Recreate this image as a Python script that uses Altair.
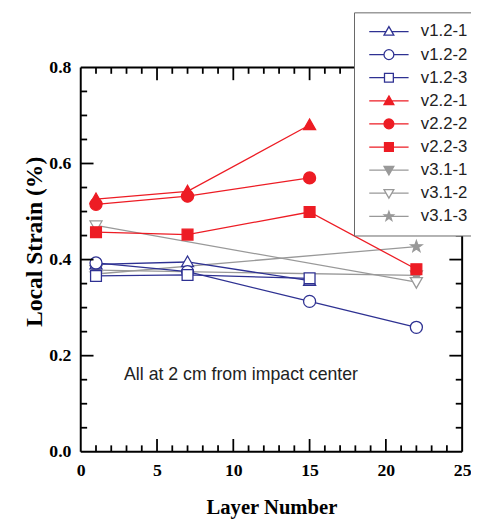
import altair as alt
import pandas as pd

# ---------------- data ----------------
series = ["v1.2-1", "v1.2-2", "v1.2-3", "v2.2-1", "v2.2-2", "v2.2-3",
          "v3.1-1", "v3.1-2", "v3.1-3"]

v121_x = [1, 7, 15];      v121_y = [0.390, 0.395, 0.356]
v122_x = [1, 7, 15, 22];  v122_y = [0.393, 0.375, 0.313, 0.259]
v123_x = [1, 7, 15];      v123_y = [0.366, 0.368, 0.361]
v221_x = [1, 7, 15];      v221_y = [0.526, 0.542, 0.680]
v222_x = [1, 7, 15];      v222_y = [0.515, 0.532, 0.570]
v223_x = [1, 7, 15, 22];  v223_y = [0.457, 0.452, 0.499, 0.380]
v311_x = [1, 22];         v311_y = [0.378, 0.367]
v312_x = [1, 22];         v312_y = [0.471, 0.353]
v313_x = [1, 22];         v313_y = [0.370, 0.427]

series_data = {
    "v1.2-1": (v121_x, v121_y), "v1.2-2": (v122_x, v122_y), "v1.2-3": (v123_x, v123_y),
    "v2.2-1": (v221_x, v221_y), "v2.2-2": (v222_x, v222_y), "v2.2-3": (v223_x, v223_y),
    "v3.1-1": (v311_x, v311_y), "v3.1-2": (v312_x, v312_y), "v3.1-3": (v313_x, v313_y),
}
draw_order = ["v3.1-1", "v3.1-2", "v3.1-3", "v2.2-1", "v2.2-2", "v2.2-3",
              "v1.2-1", "v1.2-2", "v1.2-3"]

x_labels = [0, 5, 10, 15, 20, 25]
x_major_inner = [5, 10, 15, 20]
x_minor = [1, 2, 3, 4, 6, 7, 8, 9, 11, 12, 13, 14, 16, 17, 18, 19, 21, 22, 23, 24]
y_labels = [0.0, 0.2, 0.4, 0.6, 0.8]
y_major_inner = [0.2, 0.4, 0.6]
y_minor = [0.05, 0.1, 0.15, 0.25, 0.3, 0.35, 0.45, 0.5, 0.55, 0.65, 0.7, 0.75]

note_text = ["All at 2 cm from impact center"]
note_x = [2.84]
note_y = [0.16]

# ---------------- styles ----------------
NAVY, RED, GRAY = "#2E3192", "#ED1C24", "#999999"
stroke_colors = [NAVY] * 3 + [RED] * 3 + [GRAY] * 3
fill_colors = ["white", "white", "white", RED, RED, RED, GRAY, "white", GRAY]

TRI_UP = "M0,-1L1,0.75L-1,0.75Z"
CIRC = "M1,0A1,1,0,1,1,-1,0A1,1,0,1,1,1,0Z"
SQR = "M-0.9,-0.9H0.9V0.9H-0.9Z"
TRI_DN = "M0,1L1,-0.75L-1,-0.75Z"
STAR = ("M0,-1L0.235,-0.324L0.951,-0.309L0.380,0.124L0.588,0.809L0,0.4"
        "L-0.588,0.809L-0.380,0.124L-0.951,-0.309L-0.235,-0.324Z")
marker_paths = [TRI_UP, CIRC, SQR, TRI_UP, CIRC, SQR, TRI_DN, TRI_DN, STAR]

def stub(gap):
    return "M-4,0H-%s M%s,0H4 " % (gap, gap)

legend_paths = [stub(0.57) + TRI_UP, stub(1) + CIRC, stub(0.9) + SQR,
                "M-4,0H4 " + TRI_UP, "M-4,0H4 " + CIRC, "M-4,0H4 " + SQR,
                "M-4,0H4 " + TRI_DN, stub(0.57) + TRI_DN, "M-4,0H4 " + STAR]

W, H = 388, 391
MAJ, MIN = 13, 6.5

rows = []
for name in draw_order:
    xs, ys = series_data[name]
    for xv, yv in zip(xs, ys):
        rows.append({"series": name, "layer": xv, "strain": yv})
df = pd.DataFrame(rows)

xscale = alt.Scale(domain=[0, 25], nice=False, zero=False)
yscale = alt.Scale(domain=[0, 0.8], nice=False, zero=False)

SERIF = "Liberation Serif"
SANS = "Liberation Sans"

xaxis = alt.Axis(title="Layer Number", values=x_labels, format="d", ticks=False, tickSize=0,
                 domain=False, grid=False, labelFont=SERIF, labelFontWeight="bold",
                 labelFontSize=18, labelColor="black", labelPadding=10, labelFlush=False,
                 titleFont=SERIF, titleFontWeight="bold", titleFontSize=21,
                 titleColor="black", titleBaseline="alphabetic", titleAlign="center",
                 titleX=W / 2, titleY=63)
yaxis = alt.Axis(title="Local Strain (%)", values=y_labels, format=".1f", ticks=False,
                 tickSize=0, domain=False, grid=False, labelFont=SERIF,
                 labelFontWeight="bold", labelFontSize=18, labelColor="black",
                 labelPadding=10, labelFlush=False, titleFont=SERIF,
                 titleFontWeight="bold", titleFontSize=24, titleColor="black",
                 titleBaseline="alphabetic", titleAlign="center", titleAngle=270,
                 titleX=-40, titleY=177)

X = lambda: alt.X("layer:Q", scale=xscale, axis=xaxis)
Y = lambda: alt.Y("strain:Q", scale=yscale, axis=yaxis)

lines = alt.Chart(df).mark_line(strokeWidth=1.3).encode(
    x=X(), y=Y(),
    color=alt.Color("series:N", scale=alt.Scale(domain=series, range=stroke_colors), legend=None),
    order=alt.Order("layer:Q"),
)

points = alt.Chart(df).mark_point(filled=True, size=150, strokeWidth=1.3, opacity=1).encode(
    x=X(), y=Y(),
    shape=alt.Shape("series:N", scale=alt.Scale(domain=series, range=marker_paths), legend=None),
    fill=alt.Fill("series:N", scale=alt.Scale(domain=series, range=fill_colors), legend=None),
    stroke=alt.Stroke("series:N", scale=alt.Scale(domain=series, range=stroke_colors), legend=None),
)

leg = alt.Legend(title=None, orient="none", legendX=278, legendY=-56, fillColor="white",
                 strokeColor="#666666", padding=11, rowPadding=5.5, symbolSize=100,
                 symbolStrokeWidth=1.3, symbolOffset=16, labelOffset=24,
                 labelFont=SANS, labelFontSize=17, labelColor="#222222")

legend_layer = alt.Chart(df).transform_filter("false").mark_point(
    filled=True, size=100, strokeWidth=1.3, opacity=1).encode(
    shape=alt.Shape("series:N", scale=alt.Scale(domain=series, range=legend_paths), legend=leg),
    fill=alt.Fill("series:N", scale=alt.Scale(domain=series, range=fill_colors), legend=leg),
    stroke=alt.Stroke("series:N", scale=alt.Scale(domain=series, range=stroke_colors), legend=leg),
)

note = alt.Chart(pd.DataFrame({"layer": note_x, "strain": note_y, "text": note_text})).mark_text(
    align="left", baseline="middle", font=SANS, fontSize=18, color="#222222").encode(
    x=X(), y=Y(), text="text:N")

def xticks(vals, length):
    d = pd.DataFrame({"layer": vals})
    bottom = alt.Chart(d).mark_rule(color="black", strokeWidth=1.8).encode(
        x=X(), y=alt.value(H), y2=alt.value(H - length))
    top = alt.Chart(d).mark_rule(color="black", strokeWidth=1.8).encode(
        x=X(), y=alt.value(0), y2=alt.value(length))
    return [bottom, top]

def yticks(vals, length):
    d = pd.DataFrame({"strain": vals})
    left = alt.Chart(d).mark_rule(color="black", strokeWidth=1.8).encode(
        y=Y(), x=alt.value(0), x2=alt.value(length))
    right = alt.Chart(d).mark_rule(color="black", strokeWidth=1.8).encode(
        y=Y(), x=alt.value(W), x2=alt.value(W - length))
    return [left, right]

one = pd.DataFrame({"a": [0]})
frame = [
    alt.Chart(one).mark_rule(color="black", strokeWidth=2).encode(
        x=alt.value(0), x2=alt.value(W), y=alt.value(0)),
    alt.Chart(one).mark_rule(color="black", strokeWidth=2).encode(
        x=alt.value(0), x2=alt.value(W), y=alt.value(H)),
    alt.Chart(one).mark_rule(color="black", strokeWidth=2).encode(
        y=alt.value(0), y2=alt.value(H), x=alt.value(0)),
    alt.Chart(one).mark_rule(color="black", strokeWidth=2).encode(
        y=alt.value(0), y2=alt.value(H), x=alt.value(W)),
]

tick_layers = (xticks(x_major_inner, MAJ) + xticks(x_minor, MIN)
               + yticks(y_major_inner, MAJ) + yticks(y_minor, MIN))

chart = alt.layer(
    lines, points, note, *tick_layers, *frame, legend_layer
).resolve_scale(
    shape="independent", fill="independent", stroke="independent"
).properties(
    width=W, height=H,
    autosize=alt.AutoSizeParams(type="none"),
    padding={"left": 74, "top": 56, "right": 9, "bottom": 66},
).configure_view(strokeWidth=0)

chart.save("out.html", embed_options={"renderer": "svg", "actions": False})
